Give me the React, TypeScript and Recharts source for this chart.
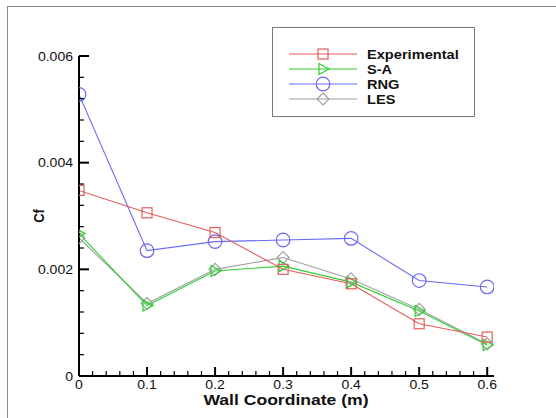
import React from 'react';
import { LineChart, Line, XAxis, YAxis, Legend } from 'recharts';

const positions = [0, 0.1, 0.2, 0.3, 0.4, 0.5, 0.6];
const experimental = [0.00348, 0.00306, 0.00269, 0.002, 0.00173, 0.00098, 0.00073];
const spalartAllmaras = [0.00267, 0.00132, 0.00197, 0.00206, 0.00176, 0.00122, 0.00058];
const rng = [0.00528, 0.00235, 0.00252, 0.00255, 0.00258, 0.00179, 0.00167];
const les = [0.00259, 0.00136, 0.002, 0.00222, 0.00182, 0.00125, 0.0006];

const xMajorTicks = [0, 0.1, 0.2, 0.3, 0.4, 0.5, 0.6];
const xMinorTicks = [
  0.02, 0.04, 0.06, 0.08, 0.12, 0.14, 0.16, 0.18, 0.22, 0.24, 0.26, 0.28,
  0.32, 0.34, 0.36, 0.38, 0.42, 0.44, 0.46, 0.48, 0.52, 0.54, 0.56, 0.58,
];
const yMajorTicks = [0, 0.002, 0.004, 0.006];
const yMinorTicks = [
  0.0004, 0.0008, 0.0012, 0.0016, 0.0024, 0.0028, 0.0032, 0.0036,
  0.0044, 0.0048, 0.0052, 0.0056,
];

const data = positions.map((x, i) => ({
  x,
  exp: experimental[i],
  sa: spalartAllmaras[i],
  rng: rng[i],
  les: les[i],
}));

const RED = '#e35d5d';
const GREEN = '#2fcf2f';
const BLUE = '#6a6af2';
const GRAY = '#a0a0a0';
const FONT = '"Liberation Sans", Arial, sans-serif';
// all lettering is a little wide, like an export stretched sideways
const STRETCH = 1.17;

type Shape = 'square' | 'triangle' | 'circle' | 'diamond';

const series: { key: string; name: string; color: string; shape: Shape }[] = [
  { key: 'les', name: 'LES', color: GRAY, shape: 'diamond' },
  { key: 'sa', name: 'S-A', color: GREEN, shape: 'triangle' },
  { key: 'rng', name: 'RNG', color: BLUE, shape: 'circle' },
  { key: 'exp', name: 'Experimental', color: RED, shape: 'square' },
];
const legendOrder = ['exp', 'sa', 'rng', 'les'];

function Marker({ cx, cy, shape, color }: { cx: number; cy: number; shape: Shape; color: string }) {
  const common = { fill: 'none', stroke: color, strokeWidth: 1.2 };
  if (shape === 'square') return <rect x={cx - 5} y={cy - 5} width={10} height={10} {...common} />;
  if (shape === 'circle') return <circle cx={cx} cy={cy} r={6.8} {...common} />;
  if (shape === 'triangle')
    return <polygon points={`${cx - 4},${cy - 5.5} ${cx + 6},${cy} ${cx - 4},${cy + 5.5}`} {...common} />;
  return <polygon points={`${cx},${cy - 6} ${cx + 6},${cy} ${cx},${cy + 6} ${cx - 6},${cy}`} {...common} />;
}

const near = (list: number[], v: number) => list.some((t) => Math.abs(t - v) < 1e-9);

function WideText({ x, y, anchor, size, bold, children }: any) {
  return (
    <text
      transform={`translate(${x},${y}) scale(${STRETCH},1)`}
      textAnchor={anchor}
      fontSize={size}
      fontWeight={bold ? 'bold' : 'normal'}
      fontFamily={FONT}
      fill="#111"
    >
      {children}
    </text>
  );
}

function XTick(props: any) {
  const { x, y, payload } = props;
  const major = near(xMajorTicks, payload.value);
  return (
    <g>
      <line x1={x} x2={x} y1={y} y2={y - (major ? 9 : 5)} stroke="#000" strokeWidth={major ? 2 : 1.2} />
      {major && (
        <WideText x={x} y={y + 12.5} anchor="middle" size={12}>
          {String(payload.value)}
        </WideText>
      )}
    </g>
  );
}

function YTick(props: any) {
  const { x, y, payload } = props;
  const major = near(yMajorTicks, payload.value);
  return (
    <g>
      <line x1={x} x2={x + (major ? 10 : 5)} y1={y} y2={y} stroke="#000" strokeWidth={major ? 2 : 1.2} />
      {major && (
        <WideText x={x - 6} y={y + 4.5} anchor="end" size={12}>
          {String(payload.value)}
        </WideText>
      )}
    </g>
  );
}

function LegendBox() {
  return (
    <div
      style={{
        width: 203,
        height: 90,
        border: '1.5px solid #777',
        boxSizing: 'border-box',
        background: '#fff',
      }}
    >
      <svg width={200} height={88} style={{ display: 'block' }}>
        {legendOrder.map((k, i) => {
          const s = series.find((d) => d.key === k)!;
          const cy = 26 + i * 15;
          return (
            <g key={k}>
              <line x1={16} x2={84} y1={cy} y2={cy} stroke={s.color} strokeWidth={1.2} />
              <Marker cx={50} cy={cy} shape={s.shape} color={s.color} />
              <WideText x={94} y={cy + 4.5} anchor="start" size={12.5} bold>
                {s.name}
              </WideText>
            </g>
          );
        })}
      </svg>
    </div>
  );
}

export default function App() {
  return (
    <div style={{ position: 'absolute', left: 0, top: 0, width: 556, height: 418, background: '#fff' }}>
      {/* outer frame: left and top edges */}
      <div
        style={{
          position: 'absolute',
          left: 7,
          top: 6,
          right: -2,
          bottom: -2,
          borderLeft: '1.5px solid #8a8a8a',
          borderTop: '1.5px solid #8a8a8a',
        }}
      />
      <LineChart
        width={556}
        height={418}
        data={data}
        margin={{ top: 56, right: 62, bottom: 41, left: 78 }}
        style={{ position: 'absolute', left: 0, top: 0 }}
      >
        <XAxis
          dataKey="x"
          type="number"
          domain={[0, 0.61]}
          allowDataOverflow
          ticks={[...xMajorTicks, ...xMinorTicks]}
          interval={0}
          height={1}
          tickSize={0}
          tickMargin={0}
          tickLine={false}
          axisLine={{ stroke: '#000', strokeWidth: 2 }}
          tick={<XTick />}
        />
        <YAxis
          type="number"
          domain={[0, 0.006]}
          allowDataOverflow
          ticks={[...yMajorTicks, ...yMinorTicks]}
          interval={0}
          width={1}
          tickSize={0}
          tickMargin={0}
          tickLine={false}
          axisLine={{ stroke: '#000', strokeWidth: 2 }}
          tick={<YTick />}
        />
        {/* vertical + centered layout keeps the legend from shrinking the plot */}
        <Legend
          layout="vertical"
          align="center"
          verticalAlign="middle"
          content={<LegendBox />}
          wrapperStyle={{ position: 'absolute', left: 272, top: 27, width: 204, height: 91 }}
        />
        {series.map((s) => (
          <Line
            key={s.key}
            dataKey={s.key}
            name={s.name}
            type="linear"
            stroke={s.color}
            strokeWidth={1.1}
            isAnimationActive={false}
            dot={(p: any) => <Marker key={`${s.key}-${p.index}`} cx={p.cx} cy={p.cy} shape={s.shape} color={s.color} />}
            activeDot={false}
          />
        ))}
      </LineChart>
      <div
        style={{
          position: 'absolute',
          left: 39,
          top: 216,
          transform: `translate(-50%, -50%) scaleX(${STRETCH}) rotate(-90deg)`,
          fontFamily: FONT,
          fontWeight: 'bold',
          fontSize: 13,
          lineHeight: 1,
          color: '#111',
        }}
      >
        Cf
      </div>
      <div
        style={{
          position: 'absolute',
          left: 286,
          top: 399,
          transform: `translate(-50%, -50%) scaleX(${STRETCH})`,
          fontFamily: FONT,
          fontWeight: 'bold',
          fontSize: 15,
          lineHeight: 1,
          color: '#111',
          whiteSpace: 'nowrap',
        }}
      >
        Wall Coordinate (m)
      </div>
    </div>
  );
}
